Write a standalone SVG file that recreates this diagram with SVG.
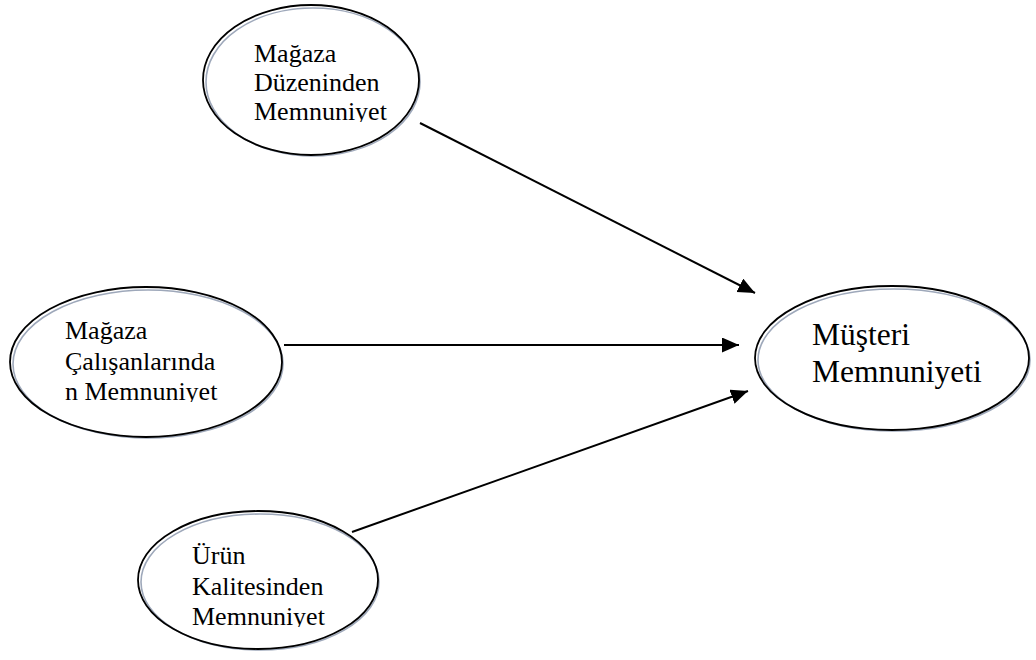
<svg xmlns="http://www.w3.org/2000/svg" width="1036" height="660" viewBox="0 0 1036 660">
  <style>
    .shade { fill: none; stroke: #9ea8ba; stroke-width: 1.6; }
    .rim { fill: none; stroke: #000; stroke-width: 1.8; }
    .lbl { font-family: "Liberation Serif", "Times New Roman", serif; font-size: 26px; fill: #000; }
    .lbl-big { font-family: "Liberation Serif", "Times New Roman", serif; font-size: 31.5px; fill: #000; }
    .link { stroke: #000; stroke-width: 2; fill: none; marker-end: url(#head); }
  </style>
  <defs>
    <marker id="head" markerUnits="userSpaceOnUse" markerWidth="18" markerHeight="16" refX="17" refY="7.5" orient="auto">
      <path d="M0,0 L17,7.5 L0,15 Z" fill="#000"/>
    </marker>
    <!-- text boxes clip the last line just under its baseline -->
    <clipPath id="clip-n1"><rect x="240" y="30" width="180" height="92"/></clipPath>
    <clipPath id="clip-n2"><rect x="50" y="310" width="200" height="92"/></clipPath>
    <clipPath id="clip-n3"><rect x="180" y="535" width="180" height="92"/></clipPath>
  </defs>

  <g id="connectors">
    <line class="link" x1="420" y1="123" x2="755" y2="293"/>
    <line class="link" x1="284" y1="345" x2="739" y2="345"/>
    <line class="link" x1="352" y1="532" x2="748" y2="391"/>
  </g>

  <g id="node-magaza-duzeni">
    <ellipse class="shade" cx="313" cy="82" rx="107" ry="74"/>
    <ellipse class="rim" cx="311" cy="80" rx="108" ry="75"/>
    <g clip-path="url(#clip-n1)">
      <text class="lbl" x="254" y="62">Mağaza</text>
      <text class="lbl" x="254" y="91">Düzeninden</text>
      <text class="lbl" x="254" y="120">Memnuniyet</text>
    </g>
  </g>

  <g id="node-magaza-calisanlari">
    <ellipse class="shade" cx="148" cy="364" rx="135" ry="74"/>
    <ellipse class="rim" cx="146" cy="362" rx="136" ry="75"/>
    <g clip-path="url(#clip-n2)">
      <text class="lbl" x="65" y="339">Mağaza</text>
      <text class="lbl" x="65" y="370">Çalışanlarında</text>
      <text class="lbl" x="65" y="400">n Memnuniyet</text>
    </g>
  </g>

  <g id="node-urun-kalitesi">
    <ellipse class="shade" cx="260" cy="582" rx="119" ry="68"/>
    <ellipse class="rim" cx="258" cy="580" rx="120" ry="69"/>
    <g clip-path="url(#clip-n3)">
      <text class="lbl" x="192" y="564">Ürün</text>
      <text class="lbl" x="192" y="595">Kalitesinden</text>
      <text class="lbl" x="192" y="625">Memnuniyet</text>
    </g>
  </g>

  <g id="node-musteri-memnuniyeti">
    <ellipse class="shade" cx="894" cy="360" rx="136" ry="71"/>
    <ellipse class="rim" cx="892" cy="358" rx="137" ry="72"/>
    <text class="lbl-big" x="812" y="345">Müşteri</text>
    <text class="lbl-big" x="812" y="382">Memnuniyeti</text>
  </g>
</svg>
